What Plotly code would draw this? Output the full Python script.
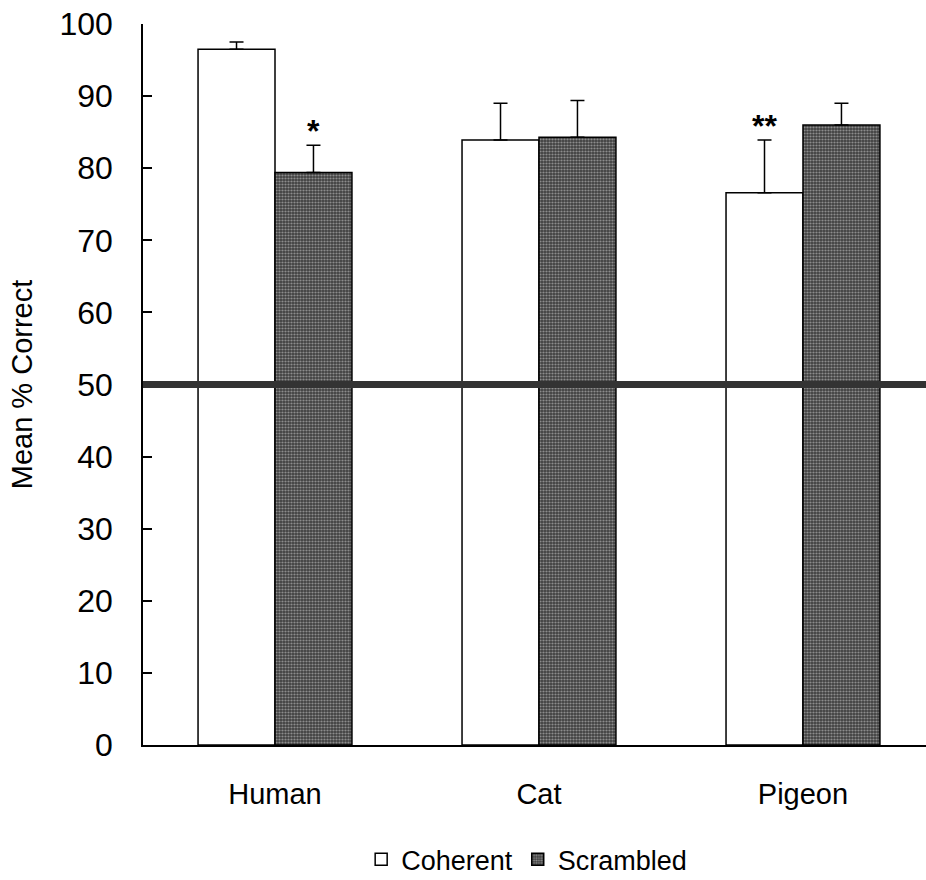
import plotly.graph_objects as go

# Mean percent correct by species and stimulus type
species = ["Human", "Cat", "Pigeon"]
coherent = [96.5, 83.9, 76.6]
coherent_err = [1.0, 5.1, 7.3]
scrambled = [79.4, 84.3, 86.0]
scrambled_err = [3.8, 5.1, 3.0]
chance_level = 50
y_ticks = [0, 10, 20, 30, 40, 50, 60, 70, 80, 90, 100]

# significance markers: (species, series, label)
markers = [("Human", "Scrambled", "*"), ("Pigeon", "Coherent", "**")]

FONT = "Liberation Sans, Arial, sans-serif"

fig = go.Figure()
fig.add_trace(go.Bar(
    name="Coherent", x=species, y=coherent,
    marker=dict(color="white", line=dict(color="black", width=1.5)),
    error_y=dict(type="data", array=coherent_err, arrayminus=[0] * len(species),
                 symmetric=False, color="black", thickness=1.5, width=7),
))
fig.add_trace(go.Bar(
    name="Scrambled", x=species, y=scrambled,
    marker=dict(color="#404040", line=dict(color="black", width=1.5),
                pattern=dict(shape=".", fgcolor="#d8d8d8", size=3, solidity=0.42)),
    error_y=dict(type="data", array=scrambled_err, arrayminus=[0] * len(species),
                 symmetric=False, color="black", thickness=1.5, width=7),
))

# chance line
fig.add_shape(type="line", xref="paper", x0=0, x1=1, yref="y",
              y0=chance_level, y1=chance_level,
              line=dict(color="#333333", width=7), layer="above")

# significance asterisks above the error bars
for sp, series, label in markers:
    i = species.index(sp)
    if series == "Coherent":
        top = coherent[i] + coherent_err[i]
        shift = -38
    else:
        top = scrambled[i] + scrambled_err[i]
        shift = 38
    fig.add_annotation(x=sp, y=top, xshift=shift, yshift=-6,
                       text="<b>" + label + "</b>",
                       showarrow=False, yanchor="bottom",
                       font=dict(family=FONT, size=32, color="black"))

fig.update_layout(
    width=926, height=880,
    margin=dict(l=143, r=0, t=24, b=135),
    paper_bgcolor="white", plot_bgcolor="white",
    barmode="group", bargap=0.417, bargroupgap=0,
    font=dict(family=FONT, color="black"),
    showlegend=True,
    legend=dict(orientation="h", x=0.49, xanchor="center",
                yref="container", y=0.023, yanchor="middle",
                font=dict(family=FONT, size=27),
                itemwidth=30, traceorder="normal"),
)
fig.update_xaxes(
    range=[-0.5, 2.466], showline=True, linecolor="black", linewidth=1.5,
    ticks="", tickfont=dict(family=FONT, size=29), ticklabelstandoff=22,
    showgrid=False, zeroline=False,
)
fig.update_yaxes(
    range=[0, 100], tickvals=y_ticks, showline=True, linecolor="black",
    linewidth=1.5, ticks="inside", ticklen=9, tickwidth=1.5, tickcolor="black",
    tickfont=dict(family=FONT, size=32), ticklabelstandoff=22,
    showgrid=False, zeroline=False,
    title=dict(text="Mean % Correct", font=dict(family=FONT, size=29), standoff=18),
)

fig.write_html("out.html")
